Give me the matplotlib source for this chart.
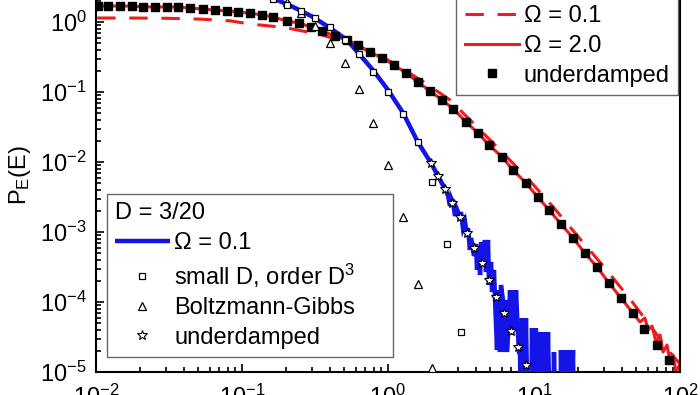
"""
Energy distributions P_E(E), D = 3/2 (red) and D = 3/20 (blue)
"""
import numpy as np
import matplotlib.pyplot as plt

plt.rcParams['font.family'] = ['Liberation Sans', 'DejaVu Sans']
plt.rcParams['mathtext.fontset'] = 'custom'
plt.rcParams['mathtext.rm'] = 'Liberation Sans'
plt.rcParams['mathtext.it'] = 'Liberation Sans:italic'
plt.rcParams['mathtext.default'] = 'regular'

#### Data

# D = 3/2, underdamped (black squares) -- also the Omega = 2.0 line
e_und_big = [0.0103, 0.0121, 0.0146, 0.0177, 0.0210, 0.0254, 0.0306, 0.0365, 0.0441, 0.0541,
             0.0653, 0.0789, 0.0940, 0.1135, 0.137, 0.163, 0.203, 0.245, 0.297, 0.353,
             0.434, 0.524, 0.624, 0.753, 0.910, 1.10, 1.33, 1.60, 1.94, 2.34,
             2.79, 3.42, 4.13, 4.92, 6.04, 7.18, 8.81, 10.6, 12.7, 15.3,
             18.5, 22.3, 27.0, 32.6, 39.4, 47.6, 56.6, 69.5, 84.1]
p_und_big = [1.69, 1.69, 1.69, 1.69, 1.64, 1.64, 1.64, 1.64, 1.58, 1.53,
             1.48, 1.44, 1.39, 1.34, 1.26, 1.18, 1.03, 0.968, 0.849, 0.744,
             0.631, 0.553, 0.469, 0.373, 0.306, 0.243, 0.187, 0.139, 0.103, 0.0769,
             0.058, 0.0373, 0.0260, 0.0175, 0.0118, 0.00769, 0.00501, 0.00316, 0.00206, 0.00130,
             8.21e-4, 5.01e-4, 3.16e-4, 1.87e-4, 1.14e-4, 6.97e-5, 4.11e-5, 2.43e-5, 1.48e-5]

# noisy end of the Omega = 2.0 line
e_tail_big = [53.2, 57.5, 60.4, 64.3, 68.5, 73.0, 76.5, 81.5, 85.5, 89.5, 94.0, 98.5]
p_tail_big = [5.18e-5, 5.91e-5, 3.98e-5, 4.54e-5, 2.68e-5, 3.38e-5, 1.93e-5, 2.43e-5,
              1.39e-5, 1.75e-5, 1.0e-5, 1.22e-5]

# D = 3/2, Omega = 0.1 (red dashed)
e_om01_big = [0.0102, 0.0171, 0.0297, 0.0515, 0.0828, 0.1135, 0.197, 0.343, 0.575, 1.0,
              1.68, 2.66, 4.27, 6.32, 9.39, 13.9, 20.7, 30.6, 45.5, 67.4, 82.8, 100.0]
p_om01_big = [1.14, 1.14, 1.13, 1.10, 1.04, 0.936, 0.834, 0.663, 0.485, 0.286,
              0.148, 0.0769, 0.0287, 0.0126, 0.00535, 0.00213, 7.94e-4, 3.06e-4, 1.10e-4,
              3.73e-5, 2.06e-5, 1.3e-5]

# D = 3/20, Omega = 0.1 (blue histogram; smooth part, noisy part, sparse tail)
# 1e-6 marks an empty bin (drawn below the axis)
e_om01_small = [0.137, 0.174, 0.224, 0.306, 0.401, 0.524, 0.643, 0.789, 1.0, 1.27,
                1.60, 1.97, 2.20,
                2.46, 2.58, 2.66, 2.70, 2.79, 2.88, 2.92, 3.02, 3.11, 3.16,
                3.26, 3.37, 3.48, 3.53, 3.64, 3.70, 3.82, 3.88, 4.01, 4.07,
                4.20, 4.27, 4.34, 4.47, 4.62, 4.69, 4.84, 4.92, 5.08, 5.16,
                5.32, 5.41, 5.58, 5.67, 5.85, 5.94, 6.13, 6.23, 6.43, 6.53,
                6.74, 6.85, 7.07, 7.18, 7.41, 7.53, 7.77, 7.89, 8.02,
                8.15, 8.28, 8.54, 8.81, 9.10, 9.53, 9.69, 10.0, 10.3, 10.65,
                11.0, 11.35, 11.7, 12.08, 12.47, 12.9, 13.5, 13.7, 14.15, 15.1,
                15.3, 15.8, 16.3, 16.8, 17.4, 17.9, 18.5, 18.8]
p_om01_small = [3.38, 2.06, 1.64, 1.18, 0.821, 0.553, 0.338, 0.206, 0.107, 0.0501,
                0.0193, 0.00968, 0.00631,
                4.11e-3, 3.27e-3, 2.35e-3, 3.06e-3, 2.60e-3, 1.69e-3, 2.28e-3, 1.93e-3, 1.48e-3, 1.93e-3,
                1.14e-3, 1.39e-3, 8.77e-4, 1.14e-3, 5.53e-4, 8.21e-4, 6.31e-4, 4.54e-4, 6.74e-4, 2.87e-4,
                5.53e-4, 2.43e-4, 7.20e-4, 3.73e-4, 7.69e-4, 2.68e-4, 7.69e-4, 1.75e-4, 3.73e-4, 1.39e-4,
                2.87e-4, 1.07e-4, 2.06e-5, 1.48e-4, 1.93e-5, 1.75e-4, 1.07e-4, 1.93e-5, 1.07e-4, 1.93e-5,
                5.53e-5, 1.48e-4, 3.38e-5, 1.48e-4, 3.98e-5, 1.48e-4, 3.38e-5, 1.93e-5, 1.93e-5,
                1e-6, 5.9e-5, 1e-6, 5.9e-5, 1e-6, 1e-6, 4.25e-5, 1e-6, 4.25e-5, 1e-6,
                3.73e-5, 1e-6, 3.73e-5, 1e-6, 3.73e-5, 1e-6, 1e-6, 1.93e-5, 1e-6, 1e-6,
                2.06e-5, 1e-6, 2.06e-5, 1e-6, 2.06e-5, 1e-6, 2.06e-5, 1e-6]

# D = 3/20, small D expansion to order D^3 (open squares)
e_smallD = [0.163, 0.203, 0.254, 0.316, 0.401, 0.507, 0.632, 0.789, 1.0, 1.27, 1.60, 2.0, 2.54, 3.16]
p_smallD = [2.13, 1.75, 1.44, 1.14, 0.849, 0.553, 0.349, 0.193, 0.1, 0.0485, 0.0193, 5.18e-3,
            6.74e-4, 3.73e-5]

# D = 3/20, Boltzmann-Gibbs (open triangles)
e_bg = [0.203, 0.254, 0.316, 0.401, 0.507, 0.632, 0.789, 1.0, 1.27, 1.60, 2.0]
p_bg = [1.93, 1.34, 0.877, 0.501, 0.260, 0.110, 0.0361, 9.06e-3, 1.64e-3, 1.81e-4, 1.14e-5]

# D = 3/20, underdamped (stars)
e_und_small = [1.97, 2.20, 2.46, 2.74, 3.11, 3.48, 3.88, 4.41, 4.92, 5.50, 6.24, 6.95, 7.76, 8.81]
p_und_small = [9.68e-3, 6.31e-3, 4.11e-3, 2.60e-3, 1.64e-3, 9.68e-4, 5.91e-4, 3.61e-4, 2.06e-4,
               1.18e-4, 6.97e-5, 3.85e-5, 2.28e-5, 1.26e-5]

#### Plot

red = '#ee1c1c'
blue = '#1414e6'

fig = plt.figure(figsize=(7, 3.95), dpi=100)
ax = fig.add_axes([96 / 700, 23 / 395, 584 / 700, 372 / 395])

l_dash, = ax.plot(e_om01_big, p_om01_big, color=red, lw=2.2, dashes=(6, 4.5), zorder=2)
l_solid, = ax.plot(e_und_big[:46] + e_tail_big, p_und_big[:46] + p_tail_big,
                   color=red, lw=2.2, zorder=2)
l_blue, = ax.plot(e_om01_small, p_om01_small, color=blue, lw=3.2, zorder=3,
                  solid_joinstyle='miter', solid_capstyle='butt')
m_und_big, = ax.plot(e_und_big, p_und_big, ls='none', marker='s', ms=5.5,
                     color='black', zorder=4)
m_bg, = ax.plot(e_bg, p_bg, ls='none', marker='^', ms=6, mfc='white', mec='black',
                mew=0.9, zorder=5)
m_smallD, = ax.plot(e_smallD, p_smallD, ls='none', marker='s', ms=5, mfc='white',
                    mec='black', mew=0.9, zorder=5)
m_und_small, = ax.plot(e_und_small, p_und_small, ls='none', marker='*', ms=7.5,
                       mfc='white', mec='black', mew=0.8, zorder=6)

ax.set_xscale('log')
ax.set_yscale('log')
ax.set_xlim(1e-2, 1e2)
ax.set_ylim(1e-5, 10 ** (22 / 70))

ax.spines['top'].set_visible(False)
for s in ['left', 'bottom', 'right']:
    ax.spines[s].set_linewidth(1.5)
ax.tick_params(which='both', direction='in', width=1.2, top=False, right=False,
               labelsize=17)
ax.tick_params(which='major', length=6)
ax.tick_params(which='minor', length=3.5)
ax.tick_params(axis='y', which='major', pad=6.5)
ax.tick_params(axis='x', which='major', pad=9)

ax.set_ylabel('P$_E$(E)', fontsize=17)
ax.yaxis.set_label_coords(-0.108, 0.53)

leg_kw = dict(fontsize=17, frameon=True, fancybox=False, framealpha=1,
              edgecolor='#666666', borderpad=0.35, labelspacing=0.32,
              handlelength=2.3, handletextpad=0.2, numpoints=1, borderaxespad=0)

leg1 = ax.legend([l_blue, m_smallD, m_bg, m_und_small],
                 ['Ω = 0.1', 'small D, order D$^3$', 'Boltzmann-Gibbs', 'underdamped'],
                 title='D = 3/20', title_fontsize=17, alignment='left',
                 loc='lower left', bbox_to_anchor=(0.0188, 0.0403, 286 / 584, 0.3),
                 mode='expand', **leg_kw)
leg1.get_frame().set_linewidth(1.0)
ax.add_artist(leg1)

leg2 = ax.legend([l_dash, l_solid, m_und_big], ['Ω = 0.1', 'Ω = 2.0', 'underdamped'],
                 loc='lower right', bbox_to_anchor=(0.9966, 0.745), **leg_kw)
leg2.get_frame().set_linewidth(1.0)

fig.savefig('out.png', dpi=100)
